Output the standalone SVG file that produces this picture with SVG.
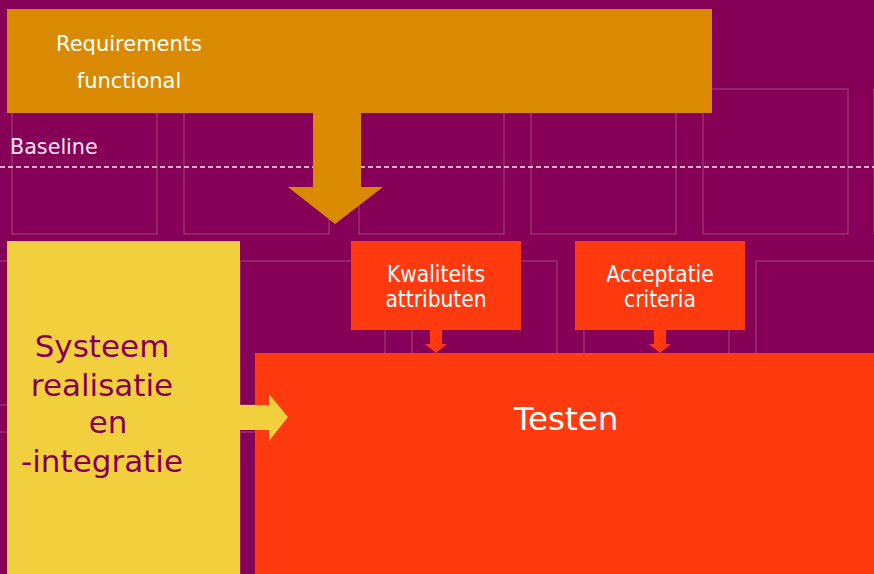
<svg xmlns="http://www.w3.org/2000/svg" width="874" height="574" viewBox="0 0 874 574">
<style>
.grid rect{fill:none;stroke:#9c3372;stroke-width:1.4}
.lbl{font-family:"DejaVu Sans","Liberation Sans",sans-serif;fill:#ffffff;text-anchor:middle}
.cond{font-family:"DejaVu Sans Condensed","DejaVu Sans","Liberation Sans",sans-serif;font-stretch:condensed;fill:#ffffff;text-anchor:middle;font-size:22.5px}
.sys{font-family:"DejaVu Sans","Liberation Sans",sans-serif;fill:#870057;text-anchor:middle;font-size:31px}
</style>
<rect width="874" height="574" fill="#870057"/>
<g class="grid">
<rect x="12" y="89" width="145" height="145"/>
<rect x="184" y="89" width="145" height="145"/>
<rect x="359" y="89" width="145" height="145"/>
<rect x="531" y="89" width="145" height="145"/>
<rect x="703" y="89" width="145" height="145"/>
<rect x="874" y="89" width="145" height="145"/>
<rect x="-104" y="261" width="145" height="144"/>
<rect x="68" y="261" width="145" height="144"/>
<rect x="240" y="261" width="145" height="144"/>
<rect x="412" y="261" width="145" height="144"/>
<rect x="584" y="261" width="145" height="144"/>
<rect x="756" y="261" width="145" height="144"/>
<rect x="-104" y="432" width="145" height="145"/>
<rect x="68" y="432" width="145" height="145"/>
<rect x="240" y="432" width="145" height="145"/>
<rect x="412" y="432" width="145" height="145"/>
<rect x="584" y="432" width="145" height="145"/>
<rect x="756" y="432" width="145" height="145"/>
</g>
<g id="baseline">
<line x1="0" y1="167" x2="874" y2="167" stroke="#f4e6ef" stroke-width="1.3" stroke-dasharray="5,3"/>
<text x="10" y="154" font-family="DejaVu Sans, Liberation Sans, sans-serif" font-size="20.7" fill="#f4e6ef">Baseline</text>
</g>
<g id="requirements">
<rect x="7" y="9" width="705" height="104" fill="#d98a00"/>
<text class="lbl" x="129" y="51" font-size="21">Requirements</text>
<text class="lbl" x="129" y="88" font-size="21">functional</text>
</g>
<g id="systeem">
<rect x="7" y="241" width="233" height="333" fill="#f2cf3c"/>
<text class="sys" x="102" y="357">Systeem</text>
<text class="sys" x="102" y="396">realisatie</text>
<text class="sys" x="108" y="433">en</text>
<text class="sys" x="102" y="472" font-size="31.5">-integratie</text>
</g>
<g id="kwaliteits">
<rect x="351" y="241" width="170" height="89" fill="#ff3a0f"/>
<text class="cond" x="436" y="282">Kwaliteits</text>
<text class="cond" x="436" y="307">attributen</text>
</g>
<g id="acceptatie">
<rect x="575" y="241" width="170" height="89" fill="#ff3a0f"/>
<text class="cond" x="660" y="282">Acceptatie</text>
<text class="cond" x="660" y="307">criteria</text>
</g>
<g id="testen">
<rect x="255" y="353" width="619" height="221" fill="#ff3a0f"/>
<text class="lbl" x="566" y="430" font-size="32.5">Testen</text>
</g>
<g id="connectors">
<polygon points="313,112 361,112 361,187 383,187 335,224 288,187 313,187" fill="#d98a00"/>
<polygon points="240,405 269,405 269,394 288,417 269,441 269,430 240,430" fill="#f2cf3c"/>
<polygon points="430,329 442,329 442,344 447,344 436,353 425,344 430,344" fill="#ff3a0f"/>
<polygon points="654,329 666,329 666,344 671,344 660,353 649,344 654,344" fill="#ff3a0f"/>
</g>
</svg>
